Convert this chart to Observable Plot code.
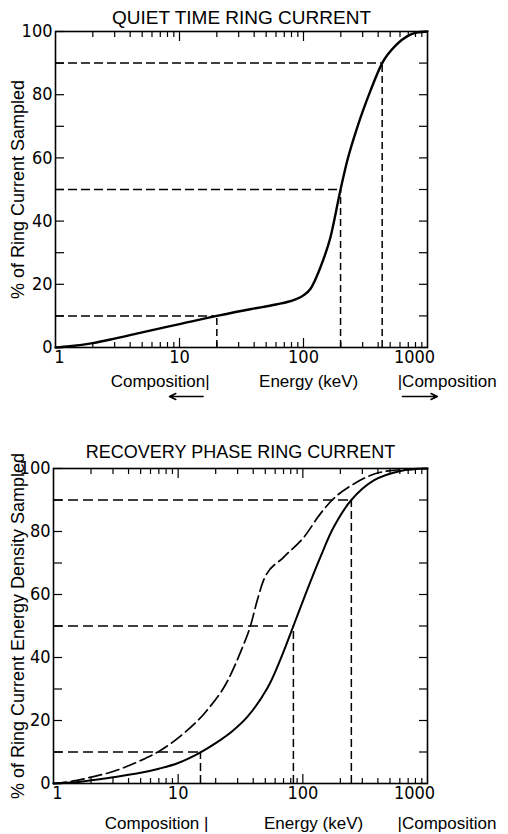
<!DOCTYPE html>
<html>
<head>
<meta charset="utf-8">
<script src="https://cdn.jsdelivr.net/npm/d3@7"></script>
<script src="https://cdn.jsdelivr.net/npm/@observablehq/plot@0.6"></script>
<style>
  body { margin: 0; background: #fff; }
  #wrap { position: relative; width: 508px; height: 834px; background: #fff; overflow: hidden; }
  #wrap > div { position: absolute; left: 0; }
</style>
</head>
<body>
<div id="wrap"><div id="p1" style="top:0"></div><div id="p2" style="top:420px"></div></div>
<script>
// ---------- data ----------
const quietTitle = "QUIET TIME RING CURRENT";
const recoveryTitle = "RECOVERY PHASE RING CURRENT";
const quietYLabel = "% of Ring Current Sampled";
const recoveryYLabel = "% of Ring Current Energy Density Sampled";
const xAxisLabel = "Energy (keV)";

const quietEnergy  = [1, 1.3, 2, 3, 5, 10, 20, 38, 60, 84, 100, 114, 137, 165, 199, 225, 271, 347, 431, 568, 822, 1000];
const quietPercent = [0, 0.4, 1.4, 2.8, 4.8, 7.4, 10, 12.2, 13.6, 15.1, 16.5, 18.6, 25.4, 34.9, 50, 59, 69.6, 81.3, 90, 96, 99.7, 100];

const recSolidEnergy  = [1, 1.5, 2, 3, 5, 7, 10, 15, 20, 27, 36, 52, 66, 84, 108, 138, 177, 245, 371, 606, 1000];
const recSolidPercent = [0, 0.4, 1.0, 2.0, 3.4, 4.7, 6.5, 9.8, 12.8, 16.5, 21.2, 30.3, 39.3, 50, 61.3, 71.8, 81.4, 90, 96.2, 99.2, 100];

const recDashEnergy  = [1, 1.5, 2, 3, 5, 7.2, 11, 17, 25, 32, 38, 43, 49, 70, 102, 138, 172, 256, 420, 700, 1000];
const recDashPercent = [0, 0.9, 2, 3.8, 7.3, 10.5, 15.8, 23.2, 32.7, 42.2, 50, 58, 65, 71.8, 78.2, 85.6, 90, 95.1, 98.8, 99.8, 100];

const markerLevels = [10, 50, 90];
const quietMarkerEnergy = [20, 199, 431];
const recoveryMarkerEnergy = [15.1, 84, 245];

const compositionLimits = [17.5, 575];   // keV: composition measured below / above
const quietEnergyLabelAt = 110;
const recoveryEnergyLabelAt = 122;
const quietArrows = [[15.5, 8.3], [627, 1200]];

const yTicks = [0, 20, 40, 60, 80, 100];
const yMinorTicks = [0, 10, 20, 30, 40, 50, 60, 70, 80, 90, 100];
const xMajorTicks = [1, 10, 100, 1000];
const xMinorTicks = [2,3,4,5,6,7,8,9,20,30,40,50,60,70,80,90,200,300,400,500,600,700,800,900];

// ---------- helpers ----------
const zip = (xs, ys) => xs.map((x, i) => ({x, y: ys[i]}));
const narrow = "'Liberation Sans Narrow', 'Arial Narrow', 'DejaVu Sans Condensed', sans-serif";
const fmt = d => String(d);

function panel({title, yLabel, curves, markerE, energyAt, arrows, m, h, titleDy, titleSize, yLabelDx, compDy, compSpace, dashH, dashV}) {
  const markers = markerE.map((e, i) => ({e, p: markerLevels[i]}));
  const tickText = {tickSize: 0, tickPadding: 3, label: null, fontSize: 18, fontFamily: narrow, tickFormat: fmt};
  const marks = [
    Plot.frame({strokeWidth: 1.6}),
    // inward ticks
    Plot.axisY({anchor: "left", ticks: yMinorTicks, tickSize: -9, fill: "none", label: null, strokeWidth: 1.2}),
    Plot.axisY({anchor: "right", ticks: yMinorTicks, tickSize: -9, fill: "none", label: null, strokeWidth: 1.2}),
    Plot.axisX({anchor: "bottom", ticks: xMinorTicks, tickSize: -5, fill: "none", label: null, strokeWidth: 1.2}),
    Plot.axisX({anchor: "top", ticks: xMinorTicks, tickSize: -5, fill: "none", label: null, strokeWidth: 1.2}),
    Plot.axisX({anchor: "bottom", ticks: [10, 100], tickSize: -9, fill: "none", label: null, strokeWidth: 1.2}),
    Plot.axisX({anchor: "top", ticks: [10, 100], tickSize: -9, fill: "none", label: null, strokeWidth: 1.2}),
    // tick labels
    Plot.axisY({anchor: "left", ticks: yTicks, ...tickText}),
    Plot.axisX({anchor: "bottom", ticks: xMajorTicks.slice(0, 1), ...tickText, dx: 4}),
    Plot.axisX({anchor: "bottom", ticks: xMajorTicks.slice(1, 3), ...tickText}),
    Plot.axisX({anchor: "bottom", ticks: xMajorTicks.slice(3), ...tickText, dx: -13}),
    // dashed reference lines
    Plot.ruleY(markers, {x1: 1, x2: "e", y: "p", strokeWidth: 1.5, strokeDasharray: dashH}),
    Plot.ruleX(markers, {x: "e", y1: 0, y2: "p", strokeWidth: 1.5, strokeDasharray: dashV}),
    // curves
    ...curves.map(c => Plot.line(c.data, {x: "x", y: "y", curve: c.curve, strokeWidth: c.w, strokeDasharray: c.dash, stroke: "black"})),
    // titles
    Plot.text([title], {frameAnchor: "top", lineAnchor: "middle", dy: titleDy, fontSize: titleSize, text: d => d}),
    Plot.text([yLabel], {frameAnchor: "left", textAnchor: "middle", lineAnchor: "middle", dx: yLabelDx, rotate: -90, fontSize: 18, text: d => d}),
    // bottom captions
    Plot.text(["Composition" + compSpace + "|"], {x: compositionLimits[0], frameAnchor: "bottom", lineAnchor: "middle", dy: compDy, textAnchor: "end", fontSize: 17, text: d => d}),
    Plot.text(["|Composition"], {x: compositionLimits[1], frameAnchor: "bottom", lineAnchor: "middle", dy: compDy, textAnchor: "start", fontSize: 17, text: d => d}),
    Plot.text([xAxisLabel], {x: energyAt, frameAnchor: "bottom", lineAnchor: "middle", dy: compDy, textAnchor: "middle", fontSize: 17, text: d => d})
  ];
  if (arrows) {
    marks.push(Plot.arrow(arrows, {x1: d => d[0], x2: d => d[1], y1: 0, y2: 0, dy: 49, strokeWidth: 1.5, headLength: 7, headAngle: 50}));
  }
  return Plot.plot({
    width: 508, height: h,
    marginLeft: m[0], marginRight: m[1], marginTop: m[2], marginBottom: m[3],
    x: {type: "log", domain: [1, 1000]},
    y: {domain: [0, 100]},
    style: {fontFamily: "'Liberation Sans', Arial, sans-serif", background: "white", color: "black", overflow: "visible"},
    marks
  });
}

document.getElementById("p1").append(panel({
  title: quietTitle, yLabel: quietYLabel,
  curves: [{data: zip(quietEnergy, quietPercent), w: 2.4, dash: null, curve: "monotone-x"}],
  markerE: quietMarkerEnergy, energyAt: quietEnergyLabelAt, arrows: quietArrows,
  m: [55, 81, 31, 63], h: 410, titleDy: -14, titleSize: 19, yLabelDx: -37, compDy: 34, compSpace: "",
  dashH: "9,4", dashV: "7,4"
}));

document.getElementById("p2").append(panel({
  title: recoveryTitle, yLabel: recoveryYLabel,
  curves: [
    {data: zip(recSolidEnergy, recSolidPercent), w: 2, dash: null, curve: "catmull-rom"},
    {data: zip(recDashEnergy, recDashPercent), w: 1.7, dash: "13,5", curve: "monotone-x"}
  ],
  markerE: recoveryMarkerEnergy, energyAt: recoveryEnergyLabelAt, arrows: null,
  m: [53, 81, 48, 51], h: 414, titleDy: -16, titleSize: 18, yLabelDx: -35, compDy: 40, compSpace: " ",
  dashH: "10,5", dashV: "8,4"
}));
</script>
</body>
</html>
